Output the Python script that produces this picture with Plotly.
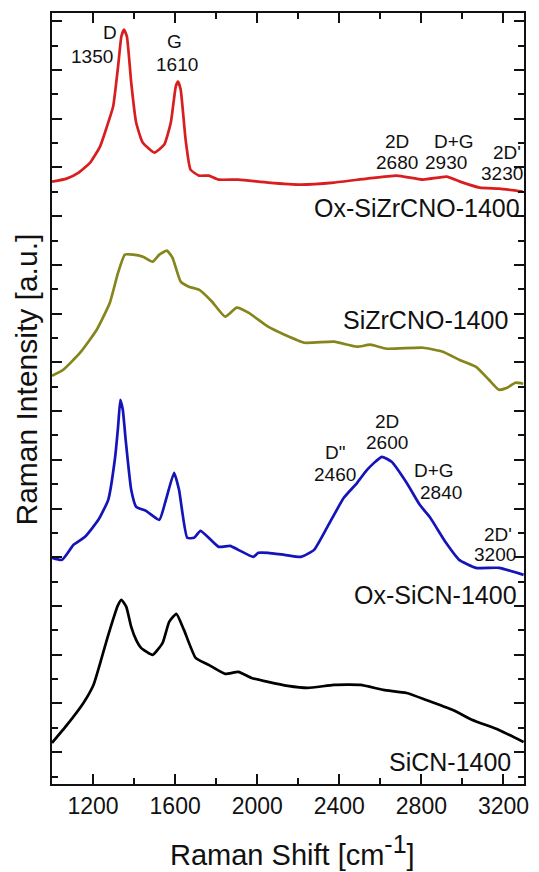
import plotly.graph_objects as go

# Raman spectra (wavenumber in cm^-1, intensity in arbitrary units, stacked as plotted)
red_x = [1000, 1071, 1130, 1186, 1234, 1266, 1298, 1322, 1338, 1351, 1365, 1386, 1410, 1442, 1499,
         1547, 1579, 1603, 1614, 1627, 1651, 1675, 1716, 1764, 1812, 1908, 2053, 2214, 2374, 2535,
         2680, 2808, 2923, 2988, 3084, 3180, 3294]
red_y = [602, 605, 611, 621, 637, 656, 677, 717, 747, 754, 747, 701, 661, 641, 631,
         639, 661, 697, 702, 694, 644, 614, 608, 608, 604, 604, 601, 599, 601, 605,
         608, 604, 607, 602, 596, 595, 592]

olive_x = [1000, 1055, 1137, 1218, 1282, 1322, 1355, 1395, 1443, 1490, 1523, 1560, 1587, 1627, 1667,
           1716, 1780, 1844, 1900, 1957, 2053, 2133, 2229, 2374, 2487, 2551, 2631, 2808, 2904, 2984,
           3065, 3129, 3178, 3218, 3258, 3296]
olive_y = [408, 414, 431, 454, 481, 511, 529, 529, 527, 522, 529, 533, 526, 502, 497,
           494, 482, 467, 476, 471, 457, 449, 441, 442, 437, 439, 435, 436, 432, 424,
           417, 404, 394, 396, 401, 400]

blue_x = [1000, 1049, 1105, 1161, 1226, 1274, 1306, 1322, 1333, 1345, 1359, 1386, 1410, 1458, 1523,
          1555, 1595, 1619, 1659, 1692, 1724, 1812, 1868, 1908, 1981, 2005, 2053, 2133, 2213, 2277,
          2342, 2422, 2487, 2535, 2607, 2655, 2728, 2792, 2840, 2920, 2984, 3065, 3178, 3298]
blue_y = [226, 224, 239, 247, 264, 284, 324, 357, 384, 374, 344, 294, 277, 273, 264,
          284, 311, 294, 246, 246, 253, 237, 238, 234, 227, 231, 231, 229, 227, 234,
          257, 286, 301, 314, 327, 322, 301, 279, 267, 241, 224, 216, 216, 209]

black_x = [1000, 1073, 1153, 1202, 1242, 1270, 1300, 1320, 1338, 1362, 1386, 1410, 1434, 1490, 1539,
           1571, 1606, 1643, 1700, 1764, 1844, 1908, 1972, 2053, 2149, 2246, 2374, 2503, 2616, 2728,
           2824, 2953, 3049, 3178, 3298]
black_y = [41, 59, 81, 99, 126, 146, 166, 178, 184, 177, 157, 144, 136, 129, 141,
           162, 170, 154, 126, 119, 110, 112, 106, 102, 98, 96, 99, 99, 94, 91,
           84, 74, 64, 54, 42]

sample_names = ["Ox-SiZrCNO-1400", "SiZrCNO-1400", "Ox-SiCN-1400", "SiCN-1400"]
sample_label_x = [3292, 3230, 3278, 3244]
sample_label_y = [576, 464, 189, 22]

# peak annotations: (text, x, y)
peak_text = ["D", "1350", "G", "1610", "2D", "2680", "D+G", "2930", "2D'", "3230",
             "2D", "2600", 'D"', "2460", "D+G", "2840", "2D'", "3200"]
peak_x = [1282, 1195, 1595, 1610, 2680, 2680, 2959, 2920, 3219, 3195,
          2631, 2631, 2381, 2381, 2863, 2896, 3171, 3161]
peak_y = [751, 727, 742, 719, 642, 621, 642, 621, 631, 610,
          362, 341, 331, 309, 313, 291, 249, 229]

x_tick_vals = [1200, 1600, 2000, 2400, 2800, 3200]
x_tick_text = ["1200", "1600", "2000", "2400", "2800", "3200"]

FONT = "Arial, Liberation Sans, Helvetica, sans-serif"
INK = "#111"

fig = go.Figure()
series = [(red_x, red_y, "#d81e1e"), (olive_x, olive_y, "#85851c"),
          (blue_x, blue_y, "#1414b8"), (black_x, black_y, "#000000")]
for xs, ys, col in series:
    fig.add_trace(go.Scatter(x=xs, y=ys, mode="lines",
                             line=dict(color=col, width=2.7, shape="spline", smoothing=0.45),
                             showlegend=False, hoverinfo="skip"))

for name, lx, ly in zip(sample_names, sample_label_x, sample_label_y):
    fig.add_annotation(x=lx, y=ly, text=name, showarrow=False, xanchor="right", yanchor="middle",
                       font=dict(family=FONT, size=25, color=INK))

for t, px, py in zip(peak_text, peak_x, peak_y):
    fig.add_annotation(x=px, y=py, text=t, showarrow=False, xanchor="center", yanchor="middle",
                       borderpad=0, font=dict(family=FONT, size=19, color=INK))

# axis titles
fig.add_annotation(xref="paper", yref="paper", x=0.51, y=-0.086, xanchor="center", yanchor="middle",
                   text="Raman Shift [cm<sup><span style='font-size:25px'>-1</span></sup>]",
                   showarrow=False, font=dict(family=FONT, size=29, color=INK))
fig.add_annotation(xref="paper", yref="paper", x=-0.054, y=0.524, xanchor="center", yanchor="middle",
                   text="Raman Intensity [a.u.]", textangle=-90,
                   showarrow=False, font=dict(family=FONT, size=30, color=INK))

fig.update_layout(
    width=539, height=872,
    margin=dict(l=52, r=10, t=13, b=88),
    paper_bgcolor="white", plot_bgcolor="white",
    font=dict(family=FONT, color=INK),
    xaxis=dict(range=[1000, 3300], showgrid=False, zeroline=False,
               showline=True, linecolor=INK, linewidth=2, mirror="ticks",
               ticks="inside", ticklen=10, tickwidth=2, tickcolor=INK,
               tickmode="array", tickvals=x_tick_vals, ticktext=x_tick_text,
               tickfont=dict(family=FONT, size=23, color=INK),
               minor=dict(dtick=200, tick0=1000, ticklen=6, tickwidth=2, tickcolor=INK, ticks="inside")),
    yaxis=dict(range=[0, 770.5], showgrid=False, zeroline=False,
               showline=True, linecolor=INK, linewidth=2, mirror="ticks",
               ticks="inside", ticklen=10, tickwidth=2, tickcolor=INK,
               tick0=762.3, dtick=48.7, showticklabels=False,
               minor=dict(dtick=24.35, tick0=737.95, ticklen=6, tickwidth=2, tickcolor=INK, ticks="inside")),
)

fig.write_html("out.html")
